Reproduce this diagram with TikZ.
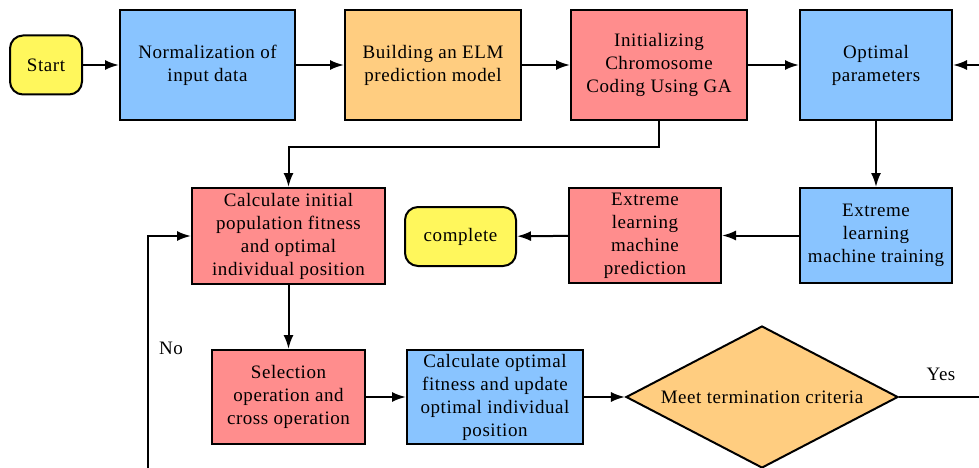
\documentclass[tikz,border=0pt]{standalone}
\usepackage{fontspec}
\setmainfont{LiberationSerif-Regular.ttf}[LetterSpace=3]
\usetikzlibrary{shapes.geometric,arrows.meta}
\definecolor{cblue}{RGB}{137,196,255}
\definecolor{corange}{RGB}{255,205,128}
\definecolor{cred}{RGB}{255,141,141}
\definecolor{cyellow}{RGB}{255,247,92}
\tikzset{
  box/.style={draw=black, line width=2pt, inner sep=0pt, align=center,
    font=\fontsize{19}{23}\selectfont},
  term/.style={box, rounded corners=13pt, fill=cyellow},
  conn/.style={line width=2pt, -{Latex[length=14pt,width=10pt]}},
  plain/.style={line width=2pt},
  lbl/.style={font=\fontsize{19}{23}\selectfont, inner sep=0pt}
}
\begin{document}
\begin{tikzpicture}[x=1pt,y=-1pt]
\useasboundingbox (0,0) rectangle (979,468);
% top row
\node[term, minimum width=72pt, minimum height=59pt] (start) at (46,65) {Start};
\node[box, fill=cblue, minimum width=175pt, minimum height=110pt] (norm) at (207.5,65) {Normalization of\\input data};
\node[box, fill=corange, minimum width=176pt, minimum height=110pt] (elm) at (433,65) {Building an ELM\\prediction model};
\node[box, fill=cred, minimum width=176pt, minimum height=110pt] (init) at (659,65) {Initializing\\Chromosome\\Coding Using GA};
\node[box, fill=cblue, minimum width=152pt, minimum height=110pt] (opt) at (876,65) {Optimal\\parameters};
% middle row
\node[box, fill=cred, minimum width=193pt, minimum height=96pt] (calc) at (288.5,236) {Calculate initial\\population fitness\\and optimal\\individual position};
\node[term, minimum width=111pt, minimum height=59pt] (comp) at (460.5,236.5) {complete};
\node[box, fill=cred, minimum width=152pt, minimum height=95pt] (pred) at (645,235.5) {Extreme\\learning\\machine\\prediction};
\node[box, fill=cblue, minimum width=152pt, minimum height=95pt] (train) at (876,235.5) {Extreme\\learning\\machine training};
% bottom row
\node[box, fill=cred, minimum width=153pt, minimum height=94pt] (sel) at (288.5,397) {Selection\\operation and\\cross operation};
\node[box, fill=cblue, minimum width=176pt, minimum height=94pt] (copt) at (495,397) {Calculate optimal\\fitness and update\\optimal individual\\position};
\node[box, diamond, aspect=1.9, fill=corange, minimum width=272pt, minimum height=142pt] (dec) at (762,397) {Meet termination criteria};
% free ends
\coordinate (rin) at (979,65);
\coordinate (yesend) at (979,397);
\coordinate (nostart) at (148,470);
% connectors
\draw[conn] (start) -- (norm);
\draw[conn] (norm) -- (elm);
\draw[conn] (elm) -- (init);
\draw[conn] (init) -- (opt);
\draw[conn] (rin) -- (opt);
\draw[conn] (init.south) |- (659,147) -| (calc.north);
\draw[conn] (opt) -- (train);
\draw[conn] (train) -- (pred);
\draw[conn] (pred) -- (comp);
\draw[conn] (calc) -- (sel);
\draw[conn] (sel) -- (copt);
\draw[conn] (copt) -- (dec);
\draw[plain] (dec.east) -- (yesend);
\draw[conn] (nostart) |- (calc.west);
% labels
\node[lbl] (yes) at (941,374) {Yes};
\node[lbl] (no) at (171,348) {No};
\end{tikzpicture}
\end{document}
